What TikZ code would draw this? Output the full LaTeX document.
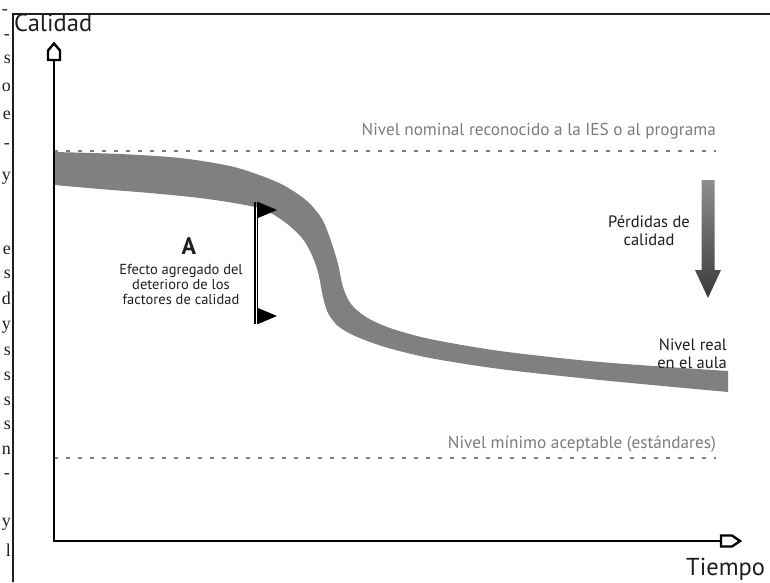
\documentclass[tikz,border=0pt]{standalone}
\usepackage{fontspec}
\setmainfont{PT Sans}
\newfontfamily\pagefont{Liberation Serif}
\definecolor{bandgrey}{HTML}{808080}
\definecolor{levelgrey}{HTML}{7C7C7C}
\definecolor{ink}{HTML}{1E1E1E}
\definecolor{arrowtop}{HTML}{8E8E8E}
\definecolor{arrowbot}{HTML}{3A3A3A}
\begin{document}
\begin{tikzpicture}[x=1pt,y=-1pt,
  frameline/.style={line width=1.3pt, draw=ink},
  axisline/.style={line width=1.6pt, draw=black},
  axishead/.style={line width=2.4pt, draw=black, fill=white, line join=miter},
  levelline/.style={dash pattern=on 4pt off 8pt, line width=1.3pt, draw=levelgrey},
  leveltext/.style={text=levelgrey, font=\fontsize{17.2}{20}\selectfont, anchor=base east, inner sep=0pt},
  axistext/.style={font=\fontsize{24.5}{28}\selectfont, text=ink, inner sep=0pt},
  note/.style={font=\fontsize{16.5}{18}\selectfont, text=ink, inner sep=0pt, align=center},
  smallnote/.style={font=\fontsize{14.5}{15}\selectfont, text=ink, inner sep=0pt, align=center},
  pageletter/.style={font=\pagefont\fontsize{18}{20}\selectfont, anchor=east, inner sep=0pt, text=ink},
  flag/.style={fill=black}
]
\useasboundingbox (0,0) rectangle (770,582);
\clip (0,0) rectangle (770,582);

% fragments of the neighbouring page on the left
\node[pageletter] (p1) at (8,12) {-};
\node[pageletter] (p2) at (10,37) {-};
\node[pageletter] (p3) at (11,59) {s};
\node[pageletter] (p4) at (11,87) {o};
\node[pageletter] (p5) at (11,115) {e};
\node[pageletter] (p6) at (10,146) {-};
\node[pageletter] (p7) at (11,178) {y};
\node[pageletter] (p8) at (11,250) {e};
\node[pageletter] (p9) at (11,274) {s};
\node[pageletter] (p10) at (11,298) {d};
\node[pageletter] (p11) at (11,327) {y};
\node[pageletter] (p12) at (11,351) {s};
\node[pageletter] (p13) at (11,376) {s};
\node[pageletter] (p14) at (11,401) {s};
\node[pageletter] (p15) at (11,425) {s};
\node[pageletter] (p16) at (11,450) {n};
\node[pageletter] (p17) at (10,476) {-};
\node[pageletter] (p18) at (11,524) {y};
\node[pageletter] (p19) at (11,550) {l};

% frame
\coordinate (fBL) at (13,582);
\coordinate (fTL) at (13,14);
\coordinate (fTR) at (770,14);
\draw[frameline] (fBL) -- (fTL) -- (fTR);

% band
\fill[bandgrey] plot[smooth, tension=0.5] coordinates {
 (54,152) (120,154) (180,158) (230,166) (262,176) (285,186) (307,201)
 (322,219) (331,241) (338,264) (343,287) (351,304) (366,317) (390,328)
 (430,339) (500,351) (600,362) (728,371)}
 -- plot[smooth, tension=0.5] coordinates {
 (728,392) (600,380) (500,369) (430,358) (385,347) (355,336) (338,326)
 (328,313) (323,297) (318,272) (311,253) (302,238) (286,223) (265,210)
 (240,204) (200,198) (150,193) (100,189) (54,185)} -- cycle;

% level lines
\coordinate (nomL) at (54,151);
\coordinate (nomR) at (716,151);
\coordinate (minL) at (54,458);
\coordinate (minR) at (716,458);
\draw[levelline] (nomL) -- (nomR);
\draw[levelline] (minL) -- (minR);
\node[leveltext] (nomtext) at (716,135) {Nivel nominal reconocido a la IES o al programa};
\node[leveltext] (mintext) at (716,448) {Nivel mínimo aceptable (estándares)};

% axes
\coordinate (origin) at (54,541);
\coordinate (ytip) at (54,60);
\coordinate (xtip) at (721,541);
\draw[axisline] (ytip) -- (origin) -- (xtip);
\draw[axishead] (48,60) -- (48,50.5) -- (54,43.5) -- (60,50.5) -- (60,60) -- cycle;
\draw[axishead] (721,535.5) -- (732,535.5) -- (740,541) -- (732,546.5) -- (721,546.5) -- cycle;
\node[axistext, anchor=base west] (calidad) at (14,31) {Calidad};
\node[axistext, anchor=base west] (tiempo) at (686,575) {Tiempo};

% effect bar with flags
\coordinate (barT) at (255,202);
\coordinate (barB) at (255,324);
\coordinate (barT2) at (257.6,202);
\coordinate (barB2) at (257.6,324);
\draw[line width=2pt] (barT) -- (barB);
\draw[line width=0.6pt] (barT2) -- (barB2);
\fill[flag] (258,202) -- (277,210) -- (258,218) -- cycle;
\fill[flag] (258,308) -- (277,316) -- (258,324) -- cycle;
\node[font=\bfseries\fontsize{24}{26}\selectfont, text=ink, inner sep=0pt, anchor=base] (A) at (189,254) {A};
\node[smallnote, anchor=north] (effect) at (181,264) {Efecto agregado del\\deterioro de los\\factores de calidad};

% losses arrow
\shade[top color=arrowtop, bottom color=arrowbot]
 (701.5,180) -- (714.5,180) -- (714.5,270) -- (721,270) -- (708,298) -- (695,270) -- (701.5,270) -- cycle;
\node[note, anchor=center] (perdidas) at (649,231) {Pérdidas de\\calidad};

% real level
\node[note, align=right, anchor=east] (real) at (727,354) {Nivel real\\en el aula};
\end{tikzpicture}
\end{document}
